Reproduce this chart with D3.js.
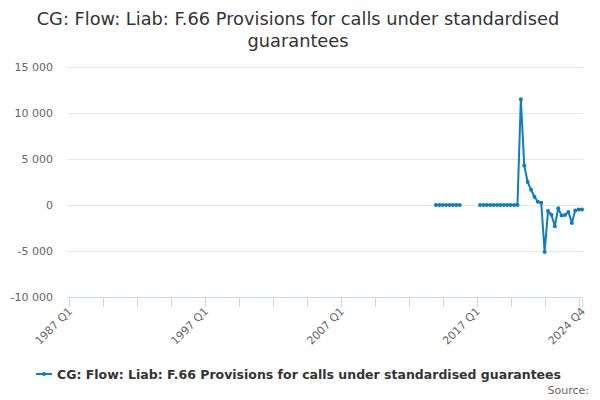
<!DOCTYPE html>
<html>
<head>
<meta charset="utf-8">
<script src="https://cdn.jsdelivr.net/npm/d3@7"></script>
<style>
  body { margin: 0; background: #fff; }
  svg { display: block; font-family: "DejaVu Sans", sans-serif; }
</style>
</head>
<body>
<svg id="chart" width="600" height="400"></svg>
<script>
// ---- data ----
const startYear = 1987;
const endYear = 2024;
const quarters = [];
for (let yr = startYear; yr <= endYear; yr++) for (let q = 1; q <= 4; q++) quarters.push(yr + " Q" + q);

// values by quarter label (others are missing)
const dataQuarters = [
  "2014 Q1","2014 Q2","2014 Q3","2014 Q4","2015 Q1","2015 Q2","2015 Q3","2015 Q4",
  "2017 Q2","2017 Q3","2017 Q4","2018 Q1","2018 Q2","2018 Q3","2018 Q4","2019 Q1","2019 Q2","2019 Q3","2019 Q4","2020 Q1",
  "2020 Q2","2020 Q3","2020 Q4","2021 Q1","2021 Q2","2021 Q3","2021 Q4","2022 Q1","2022 Q2","2022 Q3","2022 Q4",
  "2023 Q1","2023 Q2","2023 Q3","2023 Q4","2024 Q1","2024 Q2","2024 Q3","2024 Q4"
];
const dataValues = [
  0,0,0,0,0,0,0,0,
  0,0,0,0,0,0,0,0,0,0,0,0,
  11500,4300,2500,1650,900,350,250,-5100,-650,-1050,-2300,
  -350,-1150,-1100,-750,-1950,-600,-500,-500
];
const yTicks = [-10000, -5000, 0, 5000, 10000, 15000];
const xTickLabels = ["1987 Q1","1997 Q1","2007 Q1","2017 Q1","2024 Q4"];
const seriesName = "CG: Flow: Liab: F.66 Provisions for calls under standardised guarantees";
const titleLines = ["CG: Flow: Liab: F.66 Provisions for calls under standardised", "guarantees"];

// ---- build series ----
const valueMap = new Map(dataQuarters.map((q, i) => [q, dataValues[i]]));
const series = quarters.map(q => ({ q, v: valueMap.has(q) ? valueMap.get(q) : null }));

const svg = d3.select("#chart");
const color = "#0f7dc2";
const mLeft = 69, mRight = 582, mTop = 67, mBottom = 297;

const x = d3.scalePoint().domain(quarters).range([mLeft, mRight]);
const y = d3.scaleLinear().domain([-10000, 15000]).range([mBottom, mTop]);

// title
svg.append("text")
  .attr("x", 300).attr("text-anchor", "middle")
  .attr("fill", "#333333").attr("font-size", 17.8)
  .selectAll("tspan").data(titleLines).join("tspan")
  .attr("x", 298).attr("y", (d, i) => 25 + i * 22).text(d => d);

// gridlines
svg.append("g").selectAll("line").data(yTicks.filter(t => t !== -10000)).join("line")
  .attr("x1", mLeft - 1).attr("x2", mRight + 1)
  .attr("y1", d => y(d) + 0.5).attr("y2", d => y(d) + 0.5)
  .attr("stroke", "#e6e6e6").attr("stroke-width", 1);

// y labels
svg.append("g").selectAll("text").data(yTicks).join("text")
  .attr("x", 53).attr("y", d => y(d) + 4)
  .attr("text-anchor", "end").attr("fill", "#666666").attr("font-size", 11)
  .text(d => d3.format(",")(d).replace(/,/g, " ").replace("−", "-"));

// x axis line
svg.append("line")
  .attr("x1", mLeft - 1).attr("x2", mRight + 1)
  .attr("y1", mBottom + 0.5).attr("y2", mBottom + 0.5)
  .attr("stroke", "#ccd6eb").attr("stroke-width", 1);

// x ticks: every 10 quarters plus last
const tickQuarters = quarters.filter((q, i) => i % 10 === 0 || i === quarters.length - 1);
svg.append("g").selectAll("line").data(tickQuarters).join("line")
  .attr("x1", d => Math.round(x(d)) + 0.5).attr("x2", d => Math.round(x(d)) + 0.5)
  .attr("y1", mBottom).attr("y2", mBottom + 10)
  .attr("stroke", "#ccd6eb").attr("stroke-width", 1);

// x labels
svg.append("g").selectAll("text").data(xTickLabels).join("text")
  .attr("transform", d => `translate(${x(d) + 4},${mBottom + 15}) rotate(-45)`)
  .attr("text-anchor", "end").attr("fill", "#666666").attr("font-size", 11)
  .text(d => d);

// line
const line = d3.line()
  .defined(d => d.v !== null)
  .x(d => x(d.q)).y(d => y(d.v));
svg.append("path").datum(series)
  .attr("d", line).attr("fill", "none")
  .attr("stroke", color).attr("stroke-width", 2)
  .attr("stroke-linejoin", "round").attr("stroke-linecap", "round");

svg.append("g").selectAll("circle").data(series.filter(d => d.v !== null)).join("circle")
  .attr("cx", d => x(d.q)).attr("cy", d => y(d.v)).attr("r", 2)
  .attr("fill", color);

// legend
svg.append("line").attr("x1", 36).attr("x2", 52).attr("y1", 374).attr("y2", 374)
  .attr("stroke", color).attr("stroke-width", 2);
svg.append("circle").attr("cx", 44).attr("cy", 374).attr("r", 2).attr("fill", color);
svg.append("text").attr("x", 57).attr("y", 378.5)
  .attr("fill", "#333333").attr("font-size", 12.5).attr("font-weight", "bold")
  .text(seriesName);

// source
svg.append("text").attr("x", 589).attr("y", 394)
  .attr("text-anchor", "end").attr("fill", "#666666").attr("font-size", 11)
  .text("Source:");
</script>
</body>
</html>
